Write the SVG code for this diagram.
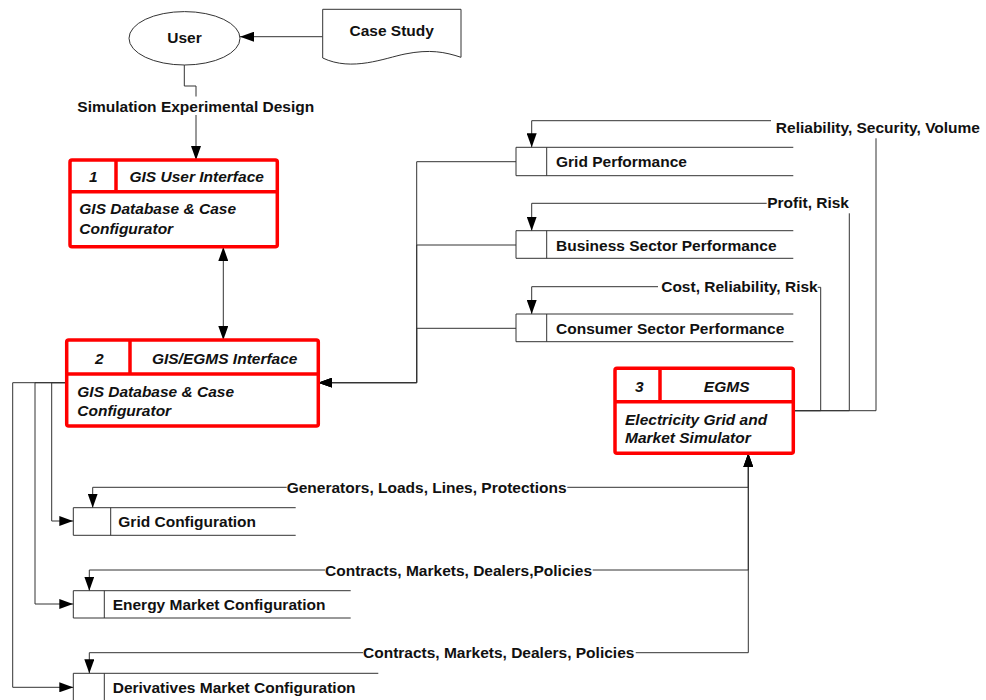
<svg xmlns="http://www.w3.org/2000/svg" width="986" height="700" viewBox="0 0 986 700">
<style>
text{font-family:"Liberation Sans",Arial,sans-serif;font-weight:bold;font-size:15.5px;fill:#111}
.it{font-style:italic}
.mid{text-anchor:middle}
.end{text-anchor:end}
.ln{fill:none;stroke:#333;stroke-width:1}
.st{fill:none;stroke:#333;stroke-width:1}
.box{fill:#fff;stroke:#ff0000;stroke-width:3.5}
.div{stroke:#ff0000;stroke-width:3.5}
.ar{marker-end:url(#ah)}
</style>
<defs>
<marker id="ah" viewBox="0 0 14 10" refX="14" refY="5" markerWidth="14" markerHeight="10" markerUnits="userSpaceOnUse" orient="auto-start-reverse">
<path d="M0,0 L14,5 L0,10 Z" fill="#000"/>
</marker>
</defs>
<rect width="986" height="700" fill="#fff"/>

<g id="connectors">
<path class="ln ar" d="M322.7,36.7 H240"/>
<path class="ln" d="M184.3,65 V86 H196 V96.5"/>
<path class="ln ar" d="M196,115 V160"/>
<path class="ln" d="M223.3,247 V340" marker-start="url(#ah)" marker-end="url(#ah)"/>
<path class="ln ar" d="M516,161.7 H416.7 V382.7 H318.3"/>
<path class="ln ar" d="M516,245 H416.7 V382.7 H318.3"/>
<path class="ln ar" d="M516,328.3 H416.7 V382.7 H318.3"/>
<path class="ln ar" d="M66.7,382.7 H51.7 V521 H73.3"/>
<path class="ln ar" d="M66.7,382.7 H35 V604 H73.3"/>
<path class="ln ar" d="M66.7,382.7 H12.7 V687.3 H73.3"/>
<path class="ln" d="M793.3,410.7 H876 V138.3"/>
<path class="ln ar" d="M771,120.7 H531.7 V147.3"/>
<path class="ln" d="M793.3,410.7 H849.3 V213.3"/>
<path class="ln ar" d="M766.7,203.3 H531.7 V230.7"/>
<path class="ln" d="M793.3,410.7 H820.7 V287.3 H817.7"/>
<path class="ln ar" d="M658,286.7 H531.7 V314"/>
<path class="ln ar" d="M567.3,487.3 H748.3 V453.3"/>
<path class="ln ar" d="M592.7,570 H748.3 V453.3"/>
<path class="ln ar" d="M635.7,652.7 H748.3 V453.3"/>
<path class="ln ar" d="M286.7,487.3 H92.7 V507.7"/>
<path class="ln ar" d="M325,570 H89.3 V590.7"/>
<path class="ln ar" d="M363,652.7 H89.3 V673.3"/>
<text x="195.8" y="111.5" class="mid">Simulation Experimental Design</text>
<text x="980" y="132.8" class="end">Reliability, Security, Volume</text>
<text x="849" y="208.2" class="end">Profit, Risk</text>
<text x="817.7" y="292.2" class="end">Cost, Reliability, Risk</text>
<text x="286.7" y="492.8">Generators, Loads, Lines, Protections</text>
<text x="325" y="575.5">Contracts, Markets, Dealers,Policies</text>
<text x="363" y="658.2">Contracts, Markets, Dealers, Policies</text>
</g>

<g id="user">
<ellipse cx="184.5" cy="38.3" rx="55.5" ry="26.7" fill="#fff" stroke="#333" stroke-width="1"/>
<text x="184.5" y="42.5" class="mid">User</text>
</g>

<g id="case-study">
<path d="M322.7,58 V9.3 H461 V57.3 C445,52 430,49 405,54 C385,58 352,72 322.7,58 Z" fill="#fff" stroke="#333" stroke-width="1"/>
<text x="391.7" y="35.5" class="mid">Case Study</text>
</g>

<g id="gis-user-interface">
<rect class="box" x="70" y="160" width="207.3" height="86.7" rx="2"/>
<line class="div" x1="70" y1="191.7" x2="277.3" y2="191.7"/>
<line class="div" x1="116" y1="160" x2="116" y2="191.7"/>
<text x="93.3" y="182.2" class="mid it">1</text>
<text x="196.7" y="182.2" class="mid it">GIS User Interface</text>
<text x="79.3" y="213.8" class="it">GIS Database &amp; Case</text>
<text x="79.3" y="233.8" class="it">Configurator</text>
</g>

<g id="gis-egms-interface">
<rect class="box" x="66.7" y="340" width="251.6" height="86" rx="2"/>
<line class="div" x1="66.7" y1="374" x2="318.3" y2="374"/>
<line class="div" x1="130" y1="340" x2="130" y2="374"/>
<text x="99.3" y="363.8" class="mid it">2</text>
<text x="224.7" y="363.8" class="mid it">GIS/EGMS Interface</text>
<text x="77.3" y="397.2" class="it">GIS Database &amp; Case</text>
<text x="77.3" y="416.2" class="it">Configurator</text>
</g>

<g id="egms">
<rect class="box" x="615" y="368.3" width="178.3" height="85" rx="2"/>
<line class="div" x1="615" y1="401.7" x2="793.3" y2="401.7"/>
<line class="div" x1="660" y1="368.3" x2="660" y2="401.7"/>
<text x="639.3" y="391.5" class="mid it">3</text>
<text x="726.7" y="391.5" class="mid it">EGMS</text>
<text x="625" y="424.5" class="it">Electricity Grid and</text>
<text x="625" y="443.2" class="it">Market Simulator</text>
</g>

<g id="grid-performance">
<path class="st" d="M793.3,147.3 H516 V175.7 H793.3 M546.7,147.3 V175.7"/>
<text x="556" y="167.2">Grid Performance</text>
</g>

<g id="business-sector-performance">
<path class="st" d="M793.3,230.7 H516 V258.3 H793.3 M546.7,230.7 V258.3"/>
<text x="556" y="250.5">Business Sector Performance</text>
</g>

<g id="consumer-sector-performance">
<path class="st" d="M793.3,314 H516 V341.7 H793.3 M546.7,314 V341.7"/>
<text x="556" y="333.5">Consumer Sector Performance</text>
</g>

<g id="grid-configuration">
<path class="st" d="M295.7,507.7 H73.3 V535.3 H295.7 M110.7,507.7 V535.3"/>
<text x="118.3" y="526.5">Grid Configuration</text>
</g>

<g id="energy-market-configuration">
<path class="st" d="M350.7,590.7 H73.3 V618 H350.7 M104.3,590.7 V618"/>
<text x="112.7" y="609.5">Energy Market Configuration</text>
</g>

<g id="derivatives-market-configuration">
<path class="st" d="M378.3,673.3 H73.3 V701 M104.3,673.3 V701"/>
<text x="112.7" y="692.8">Derivatives Market Configuration</text>
</g>
</svg>
